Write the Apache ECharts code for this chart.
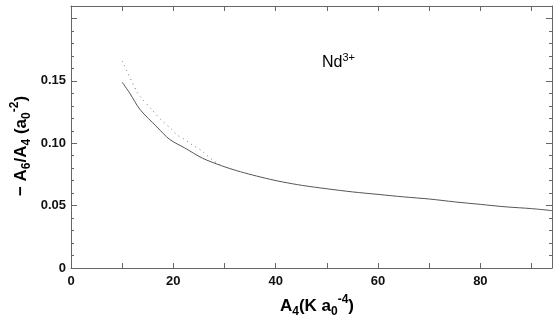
<!DOCTYPE html>
<html><head><meta charset="utf-8">
<script src="https://cdn.jsdelivr.net/npm/echarts@6/dist/echarts.min.js"></script>
<style>html,body{margin:0;padding:0;background:#fff}#c{width:555px;height:326px}</style>
</head><body><div id="c"></div>
<script>
// Data
const solidX = [10, 11.5, 13.5, 16.8, 19.3, 22.2, 25.7, 29.4, 32.4, 35.5, 38.8, 41.3, 45.2, 50, 55, 60, 65, 70, 75, 80, 85, 90, 94];
const solidY = [0.149, 0.140, 0.127, 0.113, 0.103, 0.0963, 0.088, 0.082, 0.078, 0.0745, 0.0712, 0.0690, 0.0662, 0.0635, 0.061, 0.059, 0.057, 0.0553, 0.053, 0.051, 0.049, 0.0476, 0.046];
const dottedX = [10, 12.9, 13.8, 15.8, 17.3, 19.7, 20.7, 22.2, 23.4, 25.5, 27.5, 29.4];
const dottedY = [0.166, 0.141, 0.136, 0.127, 0.120, 0.111, 0.1067, 0.103, 0.0995, 0.094, 0.087, 0.082];
const xLabels = [0, 20, 40, 60, 80];
const yLabels = [0, 0.05, 0.10, 0.15];

const FONT = '"Liberation Sans", Arial, sans-serif';
const axisCol = '#666';
const chart = echarts.init(document.getElementById('c'), null, {renderer: 'canvas'});
const zip = (xs, ys) => xs.map((x, i) => [x, ys[i]]);
const tickStyle = {color: axisCol, width: 1};
const baseX = {
  type: 'value', min: 0, max: 94, interval: 10,
  axisLine: {show: true, onZero: false, lineStyle: {color: axisCol, width: 1}},
  axisTick: {show: true, inside: true, length: 5, lineStyle: tickStyle},
  splitLine: {show: false}
};
const baseY = {
  type: 'value', min: 0, max: 0.21, interval: 0.05,
  axisLine: {show: true, onZero: false, lineStyle: {color: axisCol, width: 1}},
  axisTick: {show: true, inside: true, length: 6, lineStyle: tickStyle},
  minorTick: {show: true, splitNumber: 5, length: 3, lineStyle: tickStyle},
  splitLine: {show: false}
};
const rich = {
  m: {fontFamily: FONT, fontSize: 17, fontWeight: 'bold', color: '#111', lineHeight: 24},
  sub: {fontFamily: FONT, fontSize: 12, fontWeight: 'bold', color: '#111', lineHeight: 12, verticalAlign: 'bottom'},
  sup: {fontFamily: FONT, fontSize: 12, fontWeight: 'bold', color: '#111', lineHeight: 12, verticalAlign: 'top'}
};
const richN = {
  m: {fontFamily: FONT, fontSize: 16, color: '#111', lineHeight: 22},
  sup: {fontFamily: FONT, fontSize: 11, color: '#111', lineHeight: 11, verticalAlign: 'top'}
};
chart.setOption({
  animation: false,
  grid: {left: 71, right: 2, top: 6, bottom: 58},
  xAxis: [
    Object.assign({}, baseX, {
      position: 'bottom',
      axisLabel: {
        margin: 7, fontFamily: FONT, fontSize: 13, fontWeight: 'bold', color: '#111',
        formatter: v => xLabels.includes(v) ? String(v) : ''
      }
    }),
    Object.assign({}, baseX, {position: 'top', axisLabel: {show: false}})
  ],
  yAxis: [
    Object.assign({}, baseY, {
      position: 'left',
      axisLabel: {
        margin: 5, fontFamily: FONT, fontSize: 13, fontWeight: 'bold', color: '#111',
        formatter: v => {
          const m = yLabels.find(l => Math.abs(l - v) < 1e-9);
          if (m === undefined) return '';
          return m === 0 ? '0' : m.toFixed(2);
        }
      }
    }),
    Object.assign({}, baseY, {position: 'right', axisLabel: {show: false}})
  ],
  graphic: [
    {type: 'text', x: 322, y: 52,
     style: {text: '{m|Nd}{sup|3+}', rich: richN}},
    {type: 'text', x: 317, y: 306,
     style: {text: '{m|A}{sub|4}{m|(K a}{sub|0}{sup|-4}{m|)}', rich: rich, align: 'center', verticalAlign: 'middle'}},
    {type: 'text', x: 21, y: 146, rotation: Math.PI / 2,
     style: {text: '{m|− A}{sub|6}{m|/A}{sub|4}{m| (a}{sub|0}{sup|-2}{m|)}', rich: rich, align: 'center', verticalAlign: 'middle'}}
  ],
  series: [
    {type: 'line', data: zip(solidX, solidY), smooth: 0.3, showSymbol: false,
     lineStyle: {color: '#555', width: 1}},
    {type: 'line', data: zip(dottedX, dottedY), smooth: 0.3, showSymbol: false,
     lineStyle: {color: '#777', width: 1, type: [1, 4]}}
  ]
});
</script></body></html>
